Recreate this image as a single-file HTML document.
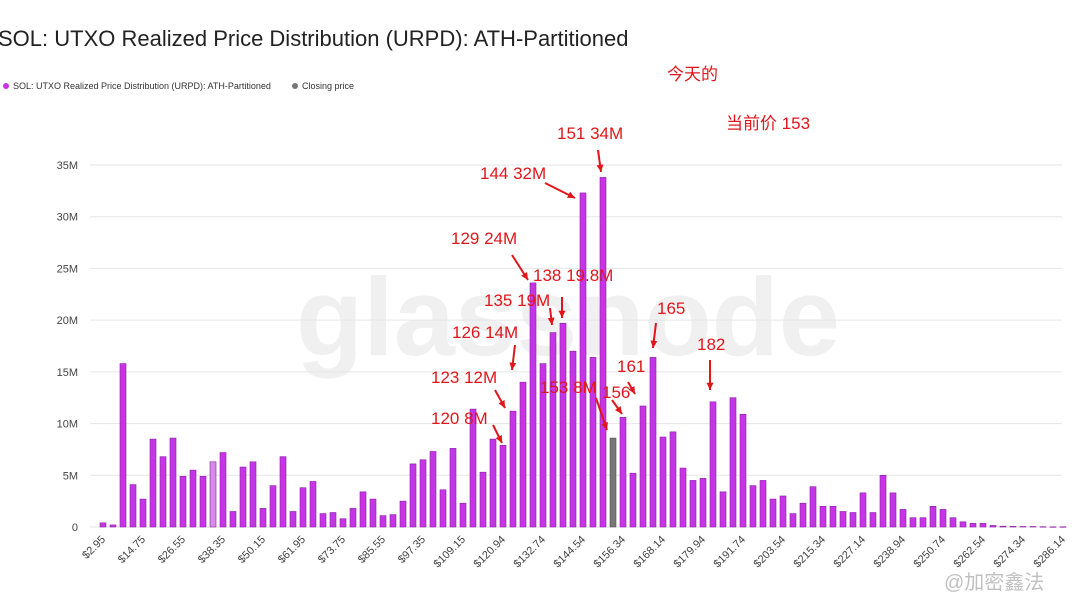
<!DOCTYPE html>
<html><head><meta charset="utf-8"><style>
body{margin:0;background:#fff;width:1072px;height:599px;overflow:hidden;font-family:"Liberation Sans","Noto Sans CJK SC",sans-serif;position:relative}
.t{position:absolute;white-space:nowrap}
.ann{position:absolute;color:#e0161b;font-size:17px;white-space:nowrap;font-family:"Liberation Sans","Noto Sans CJK SC",sans-serif}
</style></head><body>
<div class="t" style="left:-2px;top:26px;font-size:22px;color:#222">SOL: UTXO Realized Price Distribution (URPD): ATH-Partitioned</div>
<div class="t" style="left:3px;top:81px;font-size:9px;color:#333"><span style="display:inline-block;width:6px;height:6px;border-radius:3px;background:#c535e6;margin-right:4px"></span>SOL: UTXO Realized Price Distribution (URPD): ATH-Partitioned</div>
<div class="t" style="left:292px;top:81px;font-size:9px;color:#333"><span style="display:inline-block;width:6px;height:6px;border-radius:3px;background:#777;margin-right:4px"></span>Closing price</div>
<svg id="chart" width="1072" height="599" style="position:absolute;left:0;top:0">
<text x="568" y="355" font-size="110" fill="#f0f0f0" text-anchor="middle" font-family="Liberation Sans" font-weight="bold">glassnode</text>
</svg>
<div class="ann" style="left:667px;top:60px">今天的</div>
<div class="ann" style="left:726px;top:109px">当前价 153</div>
<div class="ann" style="left:557px;top:124px">151 34M</div>
<div class="ann" style="left:480px;top:164px">144 32M</div>
<div class="ann" style="left:451px;top:229px">129 24M</div>
<div class="ann" style="left:533px;top:266px">138 19.8M</div>
<div class="ann" style="left:484px;top:291px">135 19M</div>
<div class="ann" style="left:452px;top:323px">126 14M</div>
<div class="ann" style="left:431px;top:368px">123 12M</div>
<div class="ann" style="left:431px;top:409px">120 8M</div>
<div class="ann" style="left:540px;top:378px">153 8M</div>
<div class="ann" style="left:602px;top:383px">156</div>
<div class="ann" style="left:617px;top:357px">161</div>
<div class="ann" style="left:657px;top:299px">165</div>
<div class="ann" style="left:697px;top:335px">182</div>
<div class="t" style="left:944px;top:566px;font-size:20px;color:rgba(150,150,150,0.6)">@加密鑫法</div>
<script>
const yTicks=[0,5,10,15,20,25,30,35];
const values=[0.4,0.2,15.8,4.1,2.7,8.5,6.8,8.6,4.9,5.5,4.9,6.3,7.2,1.5,5.8,6.3,1.8,4.0,6.8,1.5,3.8,4.4,1.3,1.4,0.8,1.8,3.4,2.7,1.1,1.2,2.5,6.1,6.5,7.3,3.6,7.6,2.3,11.4,5.3,8.5,7.9,11.2,14.0,23.6,15.8,18.8,19.7,17.0,32.3,16.4,33.8,8.6,10.6,5.2,11.7,16.4,8.7,9.2,5.7,4.5,4.7,12.1,3.4,12.5,10.9,4.0,4.5,2.7,3.0,1.3,2.3,3.9,2.0,2.0,1.5,1.4,3.3,1.4,5.0,3.3,1.7,0.9,0.9,2.0,1.7,0.9,0.5,0.35,0.35,0.15,0.08,0.06,0.05,0.05,0.03,0.02,0.02];
const xLabels=['$2.95','$14.75','$26.55','$38.35','$50.15','$61.95','$73.75','$85.55','$97.35','$109.15','$120.94','$132.74','$144.54','$156.34','$168.14','$179.94','$191.74','$203.54','$215.34','$227.14','$238.94','$250.74','$262.54','$274.34','$286.14'];
const closingIndex=51;
const lightIndex=11;
const svg=document.getElementById('chart');
const NS='http://www.w3.org/2000/svg';
const y0=527, pxPerM=(527-165)/35, x0=103, dx=10;
const Y=v=>y0-v*pxPerM, X=i=>x0+i*dx;
function mk(tag,attrs){const e=document.createElementNS(NS,tag);for(const k in attrs)e.setAttribute(k,attrs[k]);svg.appendChild(e);return e;}
yTicks.forEach(t=>{
  const g=mk('line',{x1:90,x2:1062,y1:Y(t),y2:Y(t),stroke:'#e6e6e6','stroke-width':1});
  
  
  const l=mk('text',{x:78,y:Y(t)+4,'font-size':11,fill:'#444','text-anchor':'end','font-family':'Liberation Sans'});
  l.textContent=t===0?'0':t+'M';
  
  
});
values.forEach((v,i)=>{
  const col=i===closingIndex?'#777':(i===lightIndex?'#d88ae8':'#c535e6');
  const r=mk('rect',{x:X(i)-3,y:Y(v),width:6,height:Math.max(v*pxPerM,0.5),fill:col,stroke:i===closingIndex?'#555':'#8a1fa3','stroke-width':0.6});
  
  
});
xLabels.forEach((lab,k)=>{
  const x=X(k*4);
  const l=mk('text',{x:x+3,y:540,'font-size':11,fill:'#444','text-anchor':'end','font-family':'Liberation Sans',transform:`rotate(-45 ${x+3} 540)`});
  l.textContent=lab;
  
  
});
const arrows=[[598,150,601,172],[545,183,575,198],[512,255,528,280],[562,297,562,318],[550,308,552,325],[515,345,512,370],[495,390,505,408],[493,425,502,443],[596,398,607,430],[612,400,622,414],[628,382,635,394],[656,323,653,348],[710,360,710,390]];
arrows.forEach(a=>{
  const l=mk('line',{x1:a[0],y1:a[1],x2:a[2],y2:a[3],stroke:'#e0161b','stroke-width':2});
  
  
  const ang=Math.atan2(a[3]-a[1],a[2]-a[0]);
  const p=(t,d)=>[a[2]-d*Math.cos(ang+t),a[3]-d*Math.sin(ang+t)];
  const p1=p(0.45,8),p2=p(-0.45,8);
  const h=mk('polygon',{points:`${a[2]},${a[3]} ${p1[0]},${p1[1]} ${p2[0]},${p2[1]}`,fill:'#e0161b'});
  
  
});
</script>
</body></html>
